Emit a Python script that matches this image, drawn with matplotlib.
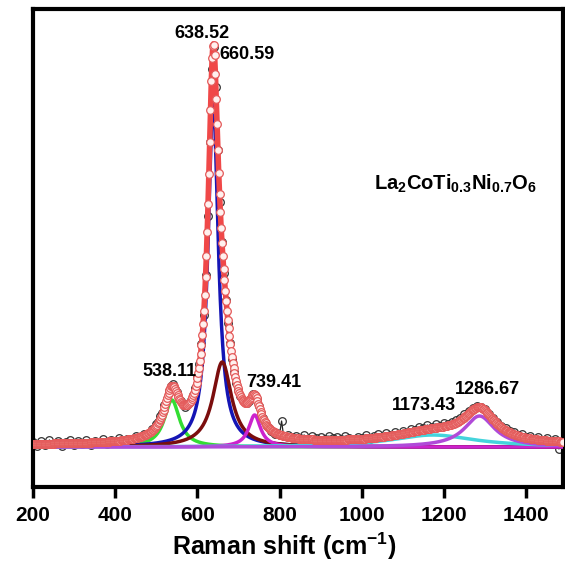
import numpy as np
import matplotlib.pyplot as plt

plt.rcParams['font.family'] = ['Liberation Sans', 'DejaVu Sans']
plt.rcParams['mathtext.fontset'] = 'custom'
plt.rcParams['mathtext.rm'] = 'Liberation Sans'
plt.rcParams['mathtext.bf'] = 'Liberation Sans:bold'

# Rohdaten (Raman-Spektrum), Werte aus dem Bild geschaetzt
x_raw = np.concatenate([np.arange(200, 500, 10), np.arange(500, 815, 5), np.arange(820, 1500, 10)])
y_raw = [5, 1, 6, 2, 7, 3, 6, 1, 5, 7, 2, 6, 3, 7, 2, 6, 4, 8, 3, 7, 5, 9, 4, 8, 7, 11, 9, 13, 12, 18,
         23, 25, 31, 34, 42, 48, 56, 61, 63, 58, 55, 48, 46, 43, 40, 42, 44, 47, 52, 59,
         70, 83, 103, 132, 172, 231, 305, 378, 400, 360, 297, 245, 205, 174, 147, 124, 104, 88, 75, 64,
         57, 51, 47, 45, 44, 46, 49, 53, 52, 48, 41, 34, 29, 25, 21, 19, 16, 15, 13, 14,
         12, 26, 11,
         12, 10, 11, 9, 12, 8, 11, 9, 10, 8, 11, 9, 10, 8, 11, 9, 7, 10, 9, 12,
         8, 11, 13, 10, 14, 12, 15, 13, 16, 14, 18, 17, 20, 19, 22, 20, 23, 21, 24, 23,
         25, 27, 29, 33, 36, 39, 41, 40, 38, 33, 29, 25, 21, 19, 16, 15, 12, 13, 10, 11,
         8, 10, 7, 9, 5, 8, -2, 6]

# Lorentz-Anpassung: Lage, Hoehe, Halbwertsbreite
centers = [538.11, 638.52, 660.59, 739.41, 1173.43, 1286.67]
heights = [47, 345, 85, 32, 12, 31]
fwhm = [45, 30, 55, 35, 250, 90]
colors = ['#33dd33', '#1515b5', '#7b0d0d', '#cc22cc', '#44d4dc', '#b04ad8']
offset = 2

peak_labels = ['538.11', '638.52', '660.59', '739.41', '1173.43', '1286.67']
label_xy = [(532, 76), (610, 413), (721, 392), (786, 65), (1152, 42), (1305, 58)]


def lorentz(x, c, h, w):
    return h / (1 + ((x - c) / (w / 2)) ** 2)


fig = plt.figure(figsize=(5.65, 5.69), dpi=100)
ax = fig.add_axes([0.0584, 0.1441, 0.9381, 0.8401])

x = np.linspace(200, 1490, 1300)
x_fit = np.arange(200, 1491, 2)

# Messdaten
ax.plot(x_raw, y_raw, "-", color="#222222", lw=0.9, zorder=2)
ax.plot(x_raw, y_raw, "o", mfc="none", mec="#333333", mew=0.9, ms=5.5, zorder=2)

# Einzelne Peaks
total = np.full_like(x, offset, dtype=float)
total_pts = np.full(len(x_fit), offset, dtype=float)
for c, h, w, col in zip(centers, heights, fwhm, colors):
    ax.plot(x, lorentz(x, c, h, w), color=col, lw=2.5, zorder=3)
    total += lorentz(x, c, h, w)
    total_pts += lorentz(x_fit, c, h, w)

# Summe der Anpassung
ax.plot(x, total, color="#f04848", lw=4, zorder=4)
ax.plot(x_fit, total_pts, "o", mfc="#fff0ee", mec="#e45a5a", mew=0.9, ms=5.5, zorder=5)

for t, (px, py) in zip(peak_labels, label_xy):
    ax.text(px, py, t, ha="center", va="center", fontsize=13, fontweight="bold", zorder=6)

ax.text(1029, 263, r'$\mathbf{La_2CoTi_{0.3}Ni_{0.7}O_6}$', fontsize=14.5, ha="left", va="center")

ax.set_xlim(200, 1490)
ax.set_ylim(-40, 438)
ax.set_xticks([200, 400, 600, 800, 1000, 1200, 1400])
ax.set_yticks([])
ax.tick_params(axis="x", direction="out", length=8, width=2.5, labelsize=15, pad=6)
for lab in ax.get_xticklabels():
    lab.set_fontweight("bold")
for s in ax.spines.values():
    s.set_linewidth(3)
ax.set_xlabel(r'Raman shift (cm$^{\mathbf{-1}}$)', fontsize=18, fontweight="bold")
ax.xaxis.set_label_coords(0.474, -0.092)

fig.savefig("out.png", dpi=100)
